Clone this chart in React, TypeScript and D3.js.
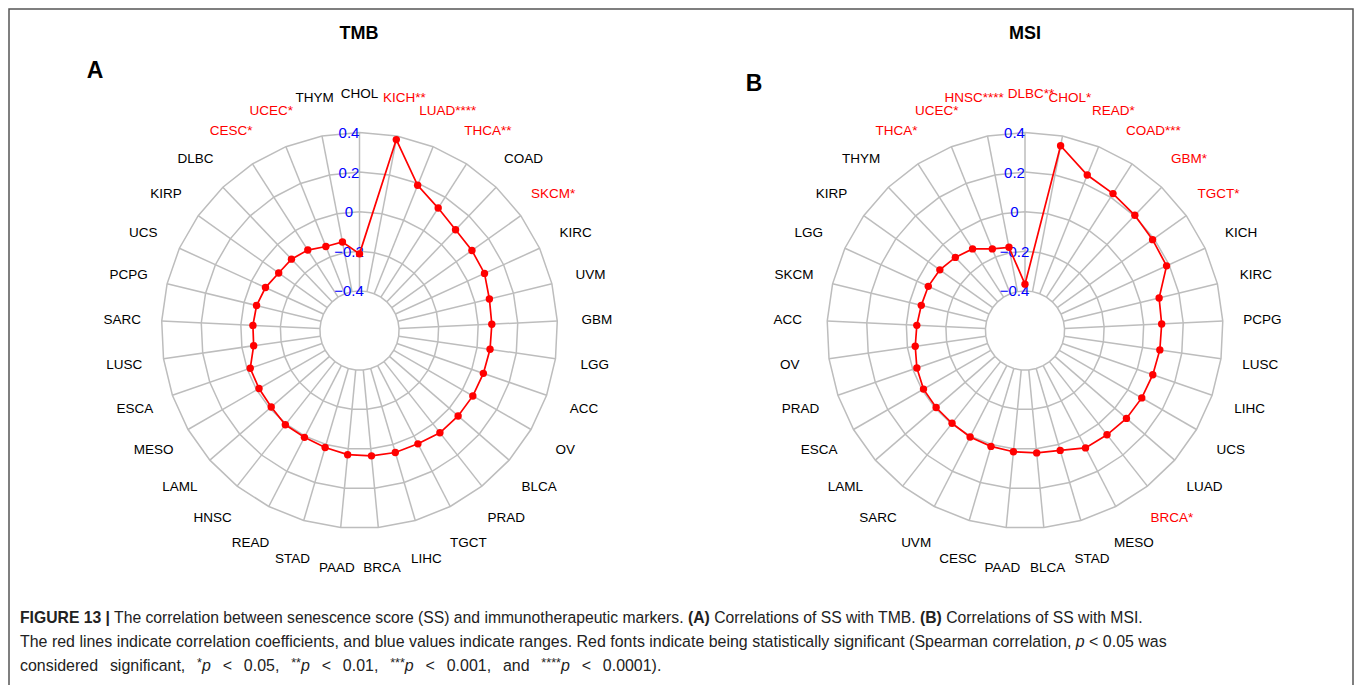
import React, { useLayoutEffect, useRef } from 'react';
import * as d3 from 'd3';

// TMB panel: cancer types clockwise from the top, Spearman r and significance stars
const tmbCancers = ['CHOL', 'KICH', 'LUAD', 'THCA', 'COAD', 'SKCM', 'KIRC', 'UVM', 'GBM', 'LGG', 'ACC', 'OV', 'BLCA', 'PRAD', 'TGCT', 'LIHC', 'BRCA', 'PAAD', 'STAD', 'READ', 'HNSC', 'LAML', 'MESO', 'ESCA', 'LUSC', 'SARC', 'PCPG', 'UCS', 'KIRP', 'DLBC', 'CESC', 'UCEC', 'THYM'];
const tmbValues = [-0.213, 0.382, 0.19, 0.135, 0.103, 0.097, 0.094, 0.075, 0.069, 0.066, 0.062, 0.061, 0.059, 0.057, 0.044, 0.042, 0.036, 0.03, 0.016, 0.007, 0.006, -0.01, -0.014, -0.016, -0.06, -0.061, -0.065, -0.078, -0.099, -0.102, -0.117, -0.143, -0.145];
const tmbStars = ['', '**', '****', '**', '', '*', '', '', '', '', '', '', '', '', '', '', '', '', '', '', '', '', '', '', '', '', '', '', '', '', '*', '*', ''];

// MSI panel
const msiCancers = ['DLBC', 'CHOL', 'READ', 'COAD', 'GBM', 'TGCT', 'KICH', 'KIRC', 'PCPG', 'LUSC', 'LIHC', 'UCS', 'LUAD', 'BRCA', 'MESO', 'STAD', 'BLCA', 'PAAD', 'CESC', 'UVM', 'SARC', 'LAML', 'ESCA', 'PRAD', 'OV', 'ACC', 'SKCM', 'LGG', 'KIRP', 'THYM', 'THCA', 'UCEC', 'HNSC'];
const msiValues = [-0.366, 0.35, 0.246, 0.222, 0.204, 0.191, 0.186, 0.097, 0.091, 0.088, 0.083, 0.081, 0.078, 0.07, 0.067, 0.031, 0.021, 0.015, 0.01, 0.005, -0.004, -0.006, -0.008, -0.022, -0.04, -0.053, -0.061, -0.063, -0.072, -0.09, -0.11, -0.156, -0.172];
const msiStars = ['**', '*', '*', '***', '*', '*', '', '', '', '', '', '', '', '*', '', '', '', '', '', '', '', '', '', '', '', '', '', '', '', '', '*', '*', '****'];

// Ring levels and their labels
const ringValues = [-0.4, -0.2, 0, 0.2, 0.4];
const ringLabels = ['\u22120.4', '\u22120.2', '0', '0.2', '0.4'];

const FONT = '"Liberation Sans", Arial, Helvetica, sans-serif';
const LABEL_SIZE = 13.5;

// Width of a string in the label font, for keeping the two top labels apart
let measureCtx: CanvasRenderingContext2D | null = null;
function textWidth(s: string): number {
  if (!measureCtx) measureCtx = document.createElement('canvas').getContext('2d');
  if (!measureCtx) return s.length * LABEL_SIZE * 0.6;
  measureCtx.font = `${LABEL_SIZE}px "Liberation Sans", Arial, sans-serif`;
  return measureCtx.measureText(s).width;
}

type RadarProps = {
  cx: number;
  cy: number;
  cancers: string[];
  values: number[];
  stars: string[];
};

function Radar({ cx, cy, cancers, values, stars }: RadarProps) {
  const n = cancers.length;
  const angle = d3.scaleLinear().domain([0, n]).range([0, 2 * Math.PI]);
  const radius = d3.scaleLinear().domain([-0.6, 0.4]).range([0, 198]);
  const pt = (i: number, r: number): [number, number] => [
    cx + r * Math.sin(angle(i)),
    cy - r * Math.cos(angle(i)),
  ];
  const closed = d3.line().curve(d3.curveLinearClosed);
  const idx = d3.range(n);
  const rMin = radius(ringValues[0]);
  const rMax = radius(ringValues[ringValues.length - 1]);
  const labelR = rMax * 1.2;
  const dataPts = values.map((v, i) => pt(i, radius(v)));

  const labels = cancers.map((c, i) => {
    const [x, y] = pt(i, labelR);
    const text = c + stars[i];
    return { text, x, y, w: textWidth(text), sig: stars[i] !== '' };
  });
  // the last and first labels sit either side of the top spoke; push them apart if they collide
  const a = labels[n - 1];
  const b = labels[0];
  const overlap = a.x + a.w / 2 + 4 - (b.x - b.w / 2);
  if (overlap > 0) {
    a.x -= overlap / 2;
    b.x += overlap / 2;
  }

  return (
    <g>
      {ringValues.map((v) => (
        <path
          key={'ring' + v}
          d={closed(idx.map((i) => pt(i, radius(v)))) || ''}
          fill="none"
          stroke="#bdbdbd"
          strokeWidth={1.5}
        />
      ))}
      {idx.map((i) => {
        const [x1, y1] = pt(i, rMin);
        const [x2, y2] = pt(i, rMax);
        return <line key={'spoke' + i} x1={x1} y1={y1} x2={x2} y2={y2} stroke="#bdbdbd" strokeWidth={1.5} />;
      })}
      {ringValues.map((v, k) => (
        <text
          key={'rl' + v}
          x={cx - 10.5}
          y={cy - radius(v)}
          dy="0.36em"
          textAnchor="middle"
          fill="#0000ff"
          fontSize={15}
          fontFamily={FONT}
        >
          {ringLabels[k]}
        </text>
      ))}
      <path d={closed(dataPts) || ''} fill="none" stroke="#ff0000" strokeWidth={1.7} />
      {dataPts.map(([x, y], i) => (
        <circle key={'pt' + i} cx={x} cy={y} r={3.7} fill="#ff0000" />
      ))}
      {labels.map((l) => (
        <text
          key={'lab' + l.text}
          x={l.x}
          y={l.y}
          dy="0.36em"
          textAnchor="middle"
          fontSize={LABEL_SIZE}
          fontFamily={FONT}
          fill={l.sig ? '#ff0000' : '#000000'}
        >
          {l.text}
        </text>
      ))}
    </g>
  );
}

// Caption lines: the first two are squeezed to their set widths, the last one
// keeps the second line's squeeze and takes up the rest in its word gaps.
const CAP_X = 20;
const capLineWidths = [1123, 1148, 642];

function Caption() {
  const ref = useRef<SVGGElement>(null);
  useLayoutEffect(() => {
    const g = ref.current;
    if (!g) return;
    const lines = Array.from(g.querySelectorAll('text'));
    let k = 1;
    lines.forEach((t, i) => {
      t.style.wordSpacing = '0px';
      const w = t.getComputedTextLength();
      if (i < 2) {
        k = capLineWidths[i] / w;
      } else {
        const spaces = (t.textContent || '').split(' ').length - 1;
        const extra = capLineWidths[i] / k - w;
        if (spaces > 0) t.style.wordSpacing = `${extra / spaces}px`;
      }
      t.setAttribute('transform', `translate(${CAP_X},0) scale(${k},1)`);
    });
  }, []);
  const sup = (s: string) => (
    <tspan fontSize={13} dy={-4}>{s}</tspan>
  );
  const it = (s: string) => (
    <tspan fontStyle="italic" dy={4}>{s}</tspan>
  );
  return (
    <g ref={ref} fontFamily={FONT} fontSize={16.5} fill="#222222">
      <text x={0} y={623}>
        <tspan fontWeight="bold">FIGURE 13 |</tspan>
        <tspan> The correlation between senescence score (SS) and immunotherapeutic markers. </tspan>
        <tspan fontWeight="bold">(A)</tspan>
        <tspan> Correlations of SS with TMB. </tspan>
        <tspan fontWeight="bold">(B)</tspan>
        <tspan> Correlations of SS with MSI.</tspan>
      </text>
      <text x={0} y={647.5}>
        <tspan>The red lines indicate correlation coefficients, and blue values indicate ranges. Red fonts indicate being statistically significant (Spearman correlation, </tspan>
        <tspan fontStyle="italic">p</tspan>
        <tspan> &lt; 0.05 was</tspan>
      </text>
      <text x={0} y={671.5}>
        <tspan>considered significant, </tspan>
        {sup('*')}
        {it('p')}
        <tspan> &lt; 0.05, </tspan>
        {sup('**')}
        {it('p')}
        <tspan> &lt; 0.01, </tspan>
        {sup('***')}
        {it('p')}
        <tspan> &lt; 0.001, and </tspan>
        {sup('****')}
        {it('p')}
        <tspan> &lt; 0.0001).</tspan>
      </text>
    </g>
  );
}

export default function App() {
  return (
    <svg
      width={1355}
      height={685}
      style={{ position: 'absolute', left: 0, top: 0, background: '#ffffff' }}
    >
      <rect x={9} y={9} width={1344} height={720} fill="none" stroke="#555555" strokeWidth={1.5} />

      <text x={359} y={33} dy="0.36em" textAnchor="middle" fontWeight="bold" fontSize={18} fontFamily={FONT}>TMB</text>
      <text x={1025} y={33} dy="0.36em" textAnchor="middle" fontWeight="bold" fontSize={18} fontFamily={FONT}>MSI</text>
      <text x={95} y={77.5} textAnchor="middle" fontWeight="bold" fontSize={23} fontFamily={FONT}>A</text>
      <text x={754} y={90.5} textAnchor="middle" fontWeight="bold" fontSize={23} fontFamily={FONT}>B</text>

      <Radar cx={359.5} cy={330.5} cancers={tmbCancers} values={tmbValues} stars={tmbStars} />
      <Radar cx={1025} cy={330.5} cancers={msiCancers} values={msiValues} stars={msiStars} />

      <Caption />
    </svg>
  );
}
